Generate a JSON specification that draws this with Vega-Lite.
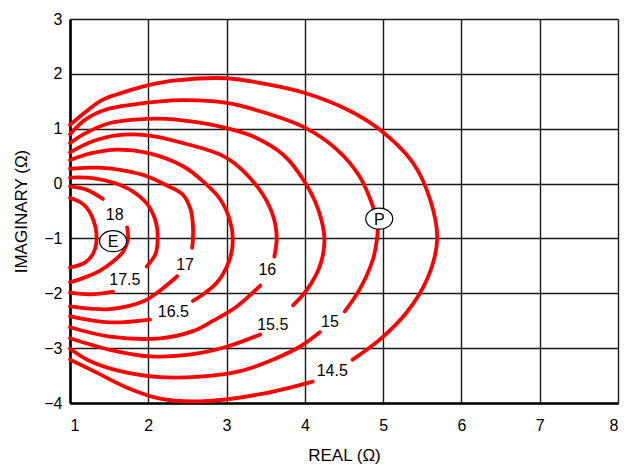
{
  "$schema": "https://vega.github.io/schema/vega-lite/v6.json",
  "autosize": "none",
  "width": 548,
  "height": 384,
  "padding": {"left": 70, "top": 19, "right": 11, "bottom": 62},
  "background": "white",
  "config": {
    "view": {"stroke": null},
    "font": "Liberation Sans",
    "axis": {
      "grid": true,
      "gridColor": "#1a1a1a",
      "gridWidth": 1.4,
      "gridOpacity": 1,
      "domainColor": "#000000",
      "domainWidth": 2.6,
      "ticks": false,
      "labelFont": "Liberation Sans",
      "labelFontSize": 16,
      "labelColor": "#000000",
      "titleFont": "Liberation Sans",
      "titleFontSize": 17,
      "titleFontWeight": "normal",
      "titleColor": "#000000"
    }
  },
  "datasets": {
    "contours": [
      {"seg": "14.5a", "i": 0, "x": 1.00, "y": 1.07},
      {"seg": "14.5a", "i": 1, "x": 1.21, "y": 1.32},
      {"seg": "14.5a", "i": 2, "x": 1.42, "y": 1.53},
      {"seg": "14.5a", "i": 3, "x": 1.72, "y": 1.68},
      {"seg": "14.5a", "i": 4, "x": 1.99, "y": 1.79},
      {"seg": "14.5a", "i": 5, "x": 2.35, "y": 1.88},
      {"seg": "14.5a", "i": 6, "x": 3.00, "y": 1.92},
      {"seg": "14.5a", "i": 7, "x": 3.52, "y": 1.81},
      {"seg": "14.5a", "i": 8, "x": 3.98, "y": 1.66},
      {"seg": "14.5a", "i": 9, "x": 4.54, "y": 1.35},
      {"seg": "14.5a", "i": 10, "x": 4.96, "y": 0.98},
      {"seg": "14.5a", "i": 11, "x": 5.38, "y": 0.38},
      {"seg": "14.5a", "i": 12, "x": 5.60, "y": -0.29},
      {"seg": "14.5a", "i": 13, "x": 5.69, "y": -1.02},
      {"seg": "14.5a", "i": 14, "x": 5.56, "y": -1.75},
      {"seg": "14.5a", "i": 15, "x": 5.30, "y": -2.35},
      {"seg": "14.5a", "i": 16, "x": 4.96, "y": -2.84},
      {"seg": "14.5a", "i": 17, "x": 4.61, "y": -3.21},
      {"seg": "14.5b", "i": 0, "x": 4.10, "y": -3.61},
      {"seg": "14.5b", "i": 1, "x": 3.43, "y": -3.84},
      {"seg": "14.5b", "i": 2, "x": 2.66, "y": -3.97},
      {"seg": "14.5b", "i": 3, "x": 2.15, "y": -3.92},
      {"seg": "14.5b", "i": 4, "x": 1.73, "y": -3.72},
      {"seg": "14.5b", "i": 5, "x": 1.29, "y": -3.41},
      {"seg": "14.5b", "i": 6, "x": 1.00, "y": -3.21},

      {"seg": "15a", "i": 0, "x": 1.00, "y": 0.90},
      {"seg": "15a", "i": 1, "x": 1.20, "y": 1.17},
      {"seg": "15a", "i": 2, "x": 1.46, "y": 1.35},
      {"seg": "15a", "i": 3, "x": 1.80, "y": 1.44},
      {"seg": "15a", "i": 4, "x": 2.44, "y": 1.52},
      {"seg": "15a", "i": 5, "x": 3.00, "y": 1.47},
      {"seg": "15a", "i": 6, "x": 3.40, "y": 1.33},
      {"seg": "15a", "i": 7, "x": 4.00, "y": 1.02},
      {"seg": "15a", "i": 8, "x": 4.41, "y": 0.62},
      {"seg": "15a", "i": 9, "x": 4.70, "y": 0.13},
      {"seg": "15a", "i": 10, "x": 4.87, "y": -0.42},
      {"seg": "15a", "i": 11, "x": 4.93, "y": -0.75},
      {"seg": "15a", "i": 12, "x": 4.92, "y": -1.02},
      {"seg": "15a", "i": 13, "x": 4.87, "y": -1.38},
      {"seg": "15a", "i": 14, "x": 4.70, "y": -1.93},
      {"seg": "15a", "i": 15, "x": 4.51, "y": -2.33},
      {"seg": "15b", "i": 0, "x": 4.19, "y": -2.71},
      {"seg": "15b", "i": 1, "x": 3.94, "y": -2.97},
      {"seg": "15b", "i": 2, "x": 3.59, "y": -3.21},
      {"seg": "15b", "i": 3, "x": 3.17, "y": -3.42},
      {"seg": "15b", "i": 4, "x": 2.66, "y": -3.52},
      {"seg": "15b", "i": 5, "x": 2.15, "y": -3.53},
      {"seg": "15b", "i": 6, "x": 1.64, "y": -3.42},
      {"seg": "15b", "i": 7, "x": 1.26, "y": -3.24},
      {"seg": "15b", "i": 8, "x": 1.00, "y": -3.01},

      {"seg": "15.5a", "i": 0, "x": 1.00, "y": 0.74},
      {"seg": "15.5a", "i": 1, "x": 1.20, "y": 0.92},
      {"seg": "15.5a", "i": 2, "x": 1.50, "y": 1.10},
      {"seg": "15.5a", "i": 3, "x": 1.99, "y": 1.18},
      {"seg": "15.5a", "i": 4, "x": 2.23, "y": 1.18},
      {"seg": "15.5a", "i": 5, "x": 2.66, "y": 1.11},
      {"seg": "15.5a", "i": 6, "x": 3.00, "y": 1.01},
      {"seg": "15.5a", "i": 7, "x": 3.32, "y": 0.87},
      {"seg": "15.5a", "i": 8, "x": 3.72, "y": 0.53},
      {"seg": "15.5a", "i": 9, "x": 3.98, "y": 0.07},
      {"seg": "15.5a", "i": 10, "x": 4.17, "y": -0.47},
      {"seg": "15.5a", "i": 11, "x": 4.25, "y": -1.02},
      {"seg": "15.5a", "i": 12, "x": 4.19, "y": -1.51},
      {"seg": "15.5a", "i": 13, "x": 4.03, "y": -1.93},
      {"seg": "15.5a", "i": 14, "x": 3.85, "y": -2.22},
      {"seg": "15.5b", "i": 0, "x": 3.43, "y": -2.75},
      {"seg": "15.5b", "i": 1, "x": 3.01, "y": -2.97},
      {"seg": "15.5b", "i": 2, "x": 2.57, "y": -3.11},
      {"seg": "15.5b", "i": 3, "x": 2.02, "y": -3.15},
      {"seg": "15.5b", "i": 4, "x": 1.51, "y": -3.03},
      {"seg": "15.5b", "i": 5, "x": 1.00, "y": -2.82},

      {"seg": "16a", "i": 0, "x": 1.00, "y": 0.57},
      {"seg": "16a", "i": 1, "x": 1.29, "y": 0.77},
      {"seg": "16a", "i": 2, "x": 1.59, "y": 0.88},
      {"seg": "16a", "i": 3, "x": 1.99, "y": 0.88},
      {"seg": "16a", "i": 4, "x": 2.44, "y": 0.74},
      {"seg": "16a", "i": 5, "x": 3.00, "y": 0.47},
      {"seg": "16a", "i": 6, "x": 3.39, "y": -0.05},
      {"seg": "16a", "i": 7, "x": 3.58, "y": -0.53},
      {"seg": "16a", "i": 8, "x": 3.64, "y": -0.97},
      {"seg": "16a", "i": 9, "x": 3.61, "y": -1.33},
      {"seg": "16b", "i": 0, "x": 3.43, "y": -1.86},
      {"seg": "16b", "i": 1, "x": 3.13, "y": -2.24},
      {"seg": "16b", "i": 2, "x": 2.83, "y": -2.50},
      {"seg": "16b", "i": 3, "x": 2.57, "y": -2.69},
      {"seg": "16b", "i": 4, "x": 2.15, "y": -2.82},
      {"seg": "16b", "i": 5, "x": 1.51, "y": -2.79},
      {"seg": "16b", "i": 6, "x": 1.00, "y": -2.62},

      {"seg": "16.5a", "i": 0, "x": 1.00, "y": 0.43},
      {"seg": "16.5a", "i": 1, "x": 1.29, "y": 0.56},
      {"seg": "16.5a", "i": 2, "x": 1.59, "y": 0.62},
      {"seg": "16.5a", "i": 3, "x": 1.99, "y": 0.56},
      {"seg": "16.5a", "i": 4, "x": 2.44, "y": 0.32},
      {"seg": "16.5a", "i": 5, "x": 2.70, "y": 0.04},
      {"seg": "16.5a", "i": 6, "x": 2.92, "y": -0.29},
      {"seg": "16.5a", "i": 7, "x": 3.04, "y": -0.66},
      {"seg": "16.5a", "i": 8, "x": 3.08, "y": -1.02},
      {"seg": "16.5a", "i": 9, "x": 3.04, "y": -1.38},
      {"seg": "16.5a", "i": 10, "x": 2.88, "y": -1.80},
      {"seg": "16.5a", "i": 11, "x": 2.66, "y": -2.06},
      {"seg": "16.5a", "i": 12, "x": 2.57, "y": -2.14},
      {"seg": "16.5b", "i": 0, "x": 2.02, "y": -2.48},
      {"seg": "16.5b", "i": 1, "x": 1.51, "y": -2.53},
      {"seg": "16.5b", "i": 2, "x": 1.00, "y": -2.42},

      {"seg": "17a", "i": 0, "x": 1.00, "y": 0.27},
      {"seg": "17a", "i": 1, "x": 1.37, "y": 0.29},
      {"seg": "17a", "i": 2, "x": 1.71, "y": 0.23},
      {"seg": "17a", "i": 3, "x": 1.99, "y": 0.13},
      {"seg": "17a", "i": 4, "x": 2.23, "y": -0.03},
      {"seg": "17a", "i": 5, "x": 2.44, "y": -0.20},
      {"seg": "17a", "i": 6, "x": 2.54, "y": -0.47},
      {"seg": "17a", "i": 7, "x": 2.57, "y": -0.76},
      {"seg": "17a", "i": 8, "x": 2.57, "y": -1.02},
      {"seg": "17a", "i": 9, "x": 2.56, "y": -1.17},
      {"seg": "17b", "i": 0, "x": 2.37, "y": -1.69},
      {"seg": "17b", "i": 1, "x": 2.15, "y": -1.95},
      {"seg": "17b", "i": 2, "x": 1.93, "y": -2.15},
      {"seg": "17b", "i": 3, "x": 1.51, "y": -2.29},
      {"seg": "17b", "i": 4, "x": 1.26, "y": -2.28},
      {"seg": "17b", "i": 5, "x": 1.00, "y": -2.24},

      {"seg": "17.5a", "i": 0, "x": 1.00, "y": 0.11},
      {"seg": "17.5a", "i": 1, "x": 1.29, "y": 0.10},
      {"seg": "17.5a", "i": 2, "x": 1.59, "y": 0.00},
      {"seg": "17.5a", "i": 3, "x": 1.84, "y": -0.18},
      {"seg": "17.5a", "i": 4, "x": 2.00, "y": -0.40},
      {"seg": "17.5a", "i": 5, "x": 2.10, "y": -0.72},
      {"seg": "17.5a", "i": 6, "x": 2.12, "y": -1.02},
      {"seg": "17.5a", "i": 7, "x": 2.09, "y": -1.29},
      {"seg": "17.5a", "i": 8, "x": 1.98, "y": -1.51},
      {"seg": "17.5b", "i": 0, "x": 1.55, "y": -1.97},
      {"seg": "17.5b", "i": 1, "x": 1.26, "y": -2.02},
      {"seg": "17.5b", "i": 2, "x": 1.00, "y": -1.99},

      {"seg": "18a", "i": 0, "x": 1.00, "y": -0.05},
      {"seg": "18a", "i": 1, "x": 1.21, "y": -0.11},
      {"seg": "18a", "i": 2, "x": 1.42, "y": -0.28},
      {"seg": "18b", "i": 0, "x": 1.73, "y": -0.80},
      {"seg": "18b", "i": 1, "x": 1.74, "y": -1.02},
      {"seg": "18b", "i": 2, "x": 1.68, "y": -1.24},
      {"seg": "18b", "i": 3, "x": 1.55, "y": -1.42},
      {"seg": "18b", "i": 4, "x": 1.38, "y": -1.59},
      {"seg": "18b", "i": 5, "x": 1.19, "y": -1.71},
      {"seg": "18b", "i": 6, "x": 1.00, "y": -1.80},

      {"seg": "inner", "i": 0, "x": 1.00, "y": -0.26},
      {"seg": "inner", "i": 1, "x": 1.17, "y": -0.38},
      {"seg": "inner", "i": 2, "x": 1.28, "y": -0.60},
      {"seg": "inner", "i": 3, "x": 1.34, "y": -1.00},
      {"seg": "inner", "i": 4, "x": 1.29, "y": -1.29},
      {"seg": "inner", "i": 5, "x": 1.19, "y": -1.44},
      {"seg": "inner", "i": 6, "x": 1.00, "y": -1.53}
    ],
    "levels": [
      {"label": "18", "x": 1.57, "y": -0.57},
      {"label": "17.5", "x": 1.70, "y": -1.75},
      {"label": "17", "x": 2.47, "y": -1.48},
      {"label": "16.5", "x": 2.32, "y": -2.35},
      {"label": "16", "x": 3.52, "y": -1.58},
      {"label": "15.5", "x": 3.59, "y": -2.57},
      {"label": "15", "x": 4.32, "y": -2.53},
      {"label": "14.5", "x": 4.35, "y": -3.42}
    ],
    "points": [
      {"name": "E", "x": 1.55, "y": -1.05},
      {"name": "P", "x": 4.95, "y": -0.64}
    ]
  },
  "encoding": {
    "x": {
      "field": "x",
      "type": "quantitative",
      "scale": {"domain": [1, 8], "nice": false, "zero": false},
      "axis": {"values": [1, 2, 3, 4, 5, 6, 7, 8], "title": "REAL (Ω)", "labelPadding": 14, "titlePadding": 14}
    },
    "y": {
      "field": "y",
      "type": "quantitative",
      "scale": {"domain": [-4, 3], "nice": false, "zero": false},
      "axis": {"values": [-4, -3, -2, -1, 0, 1, 2, 3], "title": "IMAGINARY (Ω)", "labelPadding": 8, "titlePadding": 13}
    }
  },
  "layer": [
    {
      "data": {"name": "contours"},
      "mark": {"type": "line", "color": "#ff0000", "strokeWidth": 3.8, "interpolate": "catmull-rom", "strokeCap": "round"},
      "encoding": {
        "detail": {"field": "seg", "type": "nominal"},
        "order": {"field": "i", "type": "quantitative"}
      }
    },
    {
      "data": {"name": "levels"},
      "mark": {"type": "text", "fontSize": 16, "font": "Liberation Sans", "color": "#000000", "align": "center", "baseline": "middle"},
      "encoding": {"text": {"field": "label", "type": "nominal"}}
    },
    {
      "data": {"name": "points"},
      "mark": {
        "type": "point",
        "shape": "M -1 0 A 1 0.78 0 1 0 1 0 A 1 0.78 0 1 0 -1 0 Z",
        "size": 729,
        "filled": true,
        "fill": "#ffffff",
        "fillOpacity": 1,
        "stroke": "#000000",
        "strokeWidth": 1.2,
        "opacity": 1
      },
      "encoding": {}
    },
    {
      "data": {"name": "points"},
      "mark": {"type": "text", "fontSize": 16, "font": "Liberation Sans", "color": "#000000", "align": "center", "baseline": "middle", "dy": 1},
      "encoding": {"text": {"field": "name", "type": "nominal"}}
    }
  ]
}
